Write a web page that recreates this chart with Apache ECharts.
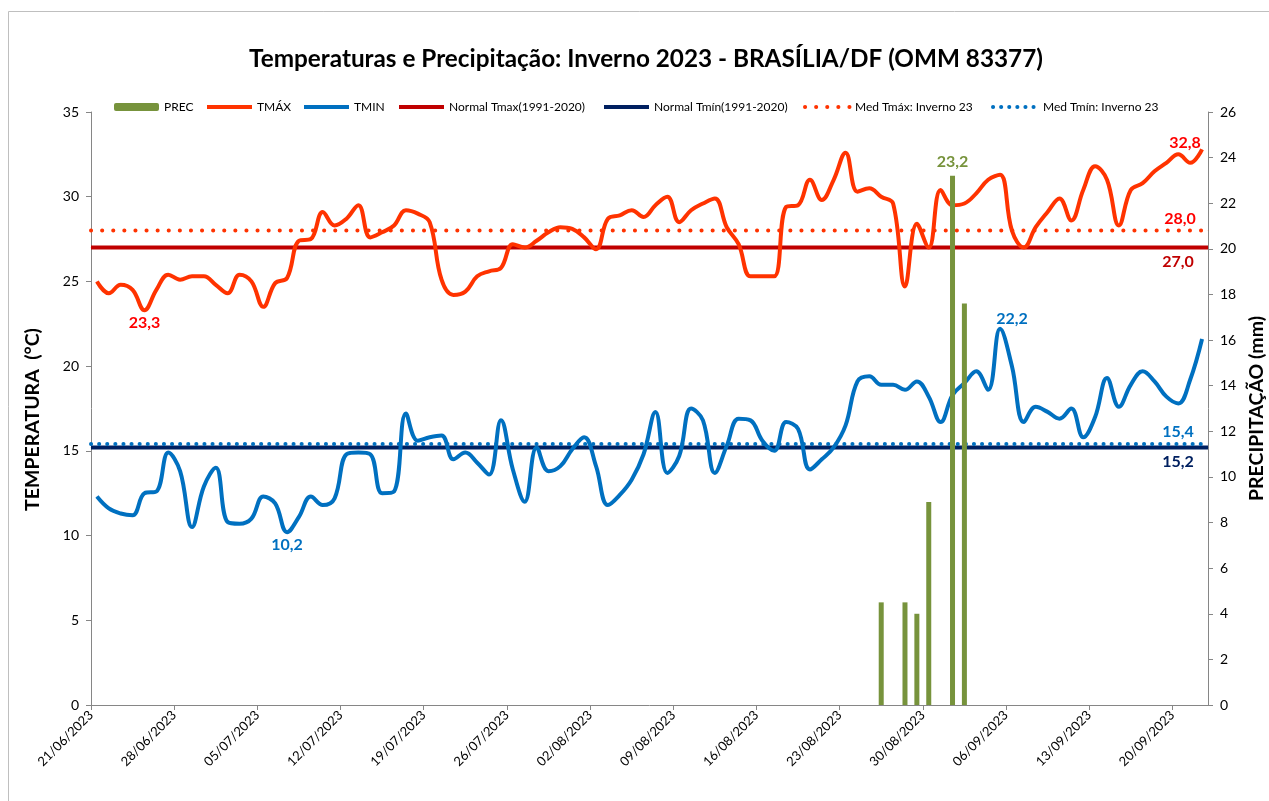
<!DOCTYPE html>
<html>
<head>
<meta charset="utf-8">
<script src="https://cdn.jsdelivr.net/npm/echarts@6/dist/echarts.min.js"></script>
<style>
  html, body { margin: 0; padding: 0; background: #fff; }
  #chart { width: 1269px; height: 801px; }
</style>
</head>
<body>
<div id="chart"></div>
<script>
// x axis tick labels, every 7 days from 21/06/2023
const tickLabels = [
  '21/06/2023', '28/06/2023', '05/07/2023', '12/07/2023', '19/07/2023',
  '26/07/2023', '02/08/2023', '09/08/2023', '16/08/2023', '23/08/2023',
  '30/08/2023', '06/09/2023', '13/09/2023', '20/09/2023'
]

// daily values, 21/06/2023 .. 22/09/2023
const tmax = [
  25.0, 24.3, 24.8, 24.5, 23.3, 24.5, 25.4, 25.1, 25.3, 25.3,
  24.8, 24.3, 25.4, 25.0, 23.5, 24.9, 25.2, 27.4, 27.5, 29.1,
  28.3, 28.7, 29.5, 27.6, 27.9, 28.3, 29.2, 29.0, 28.5, 25.1,
  24.2, 24.4, 25.3, 25.6, 25.8, 27.2, 27.0, 27.4, 27.9, 28.2,
  28.1, 27.6, 26.9, 28.7, 28.9, 29.2, 28.8, 29.5, 30.0, 28.5,
  29.2, 29.6, 29.9, 28.2, 27.2, 25.3, 25.3, 25.3, 29.4, 29.5,
  31.0, 29.8, 31.0, 32.6, 30.3, 30.5, 30.0, 29.6, 24.7, 28.4,
  27.0, 30.4, 29.5, 29.6, 30.2, 31.0, 31.3, 28.0, 27.0, 28.2,
  29.1, 29.9, 28.6, 30.4, 31.8, 31.0, 28.3, 30.4, 30.8, 31.5,
  32.0, 32.5, 32.0, 32.8
]
const tmin = [
  12.3, 11.6, 11.3, 11.2, 12.5, 12.6, 14.9, 13.8, 10.5, 12.9,
  14.0, 10.8, 10.7, 11.0, 12.3, 11.9, 10.2, 11.1, 12.3, 11.8,
  12.2, 14.8, 14.9, 14.8, 12.5, 12.6, 17.2, 15.6, 15.8, 15.9,
  14.5, 14.9, 14.3, 13.6, 16.8, 13.9, 12.0, 15.2, 13.8, 14.1,
  15.1, 15.8, 14.1, 11.8, 12.4, 13.3, 14.8, 17.3, 13.7, 14.7,
  17.5, 16.8, 13.7, 15.3, 16.9, 16.8, 15.6, 15.0, 16.7, 16.3,
  13.9, 14.5, 15.2, 16.5, 19.1, 19.4, 18.9, 18.9, 18.6, 19.1,
  18.2, 16.7, 18.3, 19.0, 19.7, 18.6, 22.2, 20.0, 16.7, 17.6,
  17.3, 16.9, 17.5, 15.8, 17.0, 19.3, 17.6, 18.9, 19.7, 19.1,
  18.2, 17.8, 19.2, 21.6
]
const prec = [
  0, 0, 0, 0, 0, 0, 0, 0, 0, 0,
  0, 0, 0, 0, 0, 0, 0, 0, 0, 0,
  0, 0, 0, 0, 0, 0, 0, 0, 0, 0,
  0, 0, 0, 0, 0, 0, 0, 0, 0, 0,
  0, 0, 0, 0, 0, 0, 0, 0, 0, 0,
  0, 0, 0, 0, 0, 0, 0, 0, 0, 0,
  0, 0, 0, 0, 0, 0, 4.5, 0, 4.5, 4.0,
  8.9, 0, 23.2, 17.6, 0, 0, 0, 0, 0, 0,
  0, 0, 0, 0, 0, 0, 0, 0, 0, 0,
  0, 0, 0, 0
]

const normalTmax = 27.0
const normalTmin = 15.2
const medTmax = 28.0
const medTmin = 15.4

const legendNames = ['PREC', 'TMÁX', 'TMIN', 'Normal Tmax(1991-2020)', 'Normal Tmín(1991-2020)',
  'Med Tmáx: Inverno 23', 'Med Tmín: Inverno 23']
const legendLeft = [114, 205, 302, 397, 602, 803, 991]

const nDays = tmax.length
const FONT = 'Lato'

const chart = echarts.init(document.getElementById('chart'), null, { renderer: 'canvas' })

const fmt = v => v.toFixed(1).replace('.', ',')
const lbl = (color, extra) => Object.assign({
  show: true, color, fontFamily: FONT, fontWeight: 'bold', fontSize: 16,
  formatter: p => fmt(p.value[1])
}, extra)

// daily points sit in the middle of each day
function points(arr, marks) {
  return arr.map((v, i) => {
    const item = { value: [i + 0.5, v] }
    if (marks && marks[i]) item.label = marks[i]
    return item
  })
}
const idxMin = arr => arr.indexOf(Math.min(...arr))
const idxMax = arr => arr.indexOf(Math.max(...arr))

// horizontal reference lines spanning the full axis
function refLine(v, label) {
  return [{ value: [0, v] }, { value: [nDays, v], label }]
}

const tmaxMarks = {}
tmaxMarks[idxMin(tmax)] = lbl('#FF0000', { position: 'bottom', distance: 4 })
tmaxMarks[idxMax(tmax)] = lbl('#FF0000', { position: 'left', distance: 1, offset: [0, -6] })
const tminMarks = {}
tminMarks[idxMin(tmin)] = lbl('#0070C0', { position: 'bottom', distance: 4 })
tminMarks[idxMax(tmin)] = lbl('#0070C0', { position: 'top', distance: 2, offset: [12, 0] })
const precMarks = {}
precMarks[idxMax(prec)] = lbl('#77933C', { position: 'top', distance: 6 })

const thin = '#868686'

// tiny symbols so that the point labels can be drawn
const lineBase = {
  type: 'line', symbol: 'circle', symbolSize: 0.5,
  showSymbol: true, showAllSymbol: true, z: 3
}

// one legend per entry so each sits where the original has it
const legends = legendNames.map((name, i) => ({
  left: legendLeft[i],
  top: 101,
  padding: 0,
  itemWidth: 45,
  itemHeight: 8,
  itemGap: 0,
  lineStyle: { width: 'inherit' },
  textStyle: { fontFamily: FONT, fontSize: 12, color: '#000' },
  data: [i === 0 ? { name } : { name, itemStyle: { opacity: 0 } }]
}))

const option = {
  animation: false,
  backgroundColor: '#fff',
  textStyle: { fontFamily: FONT },
  title: {
    text: 'Temperaturas e Precipitação: Inverno 2023 - BRASÍLIA/DF (OMM 83377)',
    left: 641,
    top: 42,
    textAlign: 'center',
    textStyle: { fontFamily: FONT, fontWeight: 'bold', fontSize: 24.3, color: '#000' }
  },
  graphic: [{
    type: 'rect',
    shape: { x: 8.5, y: 11.5, width: 1300, height: 900 },
    style: { fill: 'none', stroke: '#BFBFBF', lineWidth: 1 },
    silent: true
  }],
  legend: legends,
  grid: { left: 91, right: 61, top: 112, bottom: 96, outerBoundsMode: 'none' },
  xAxis: {
    type: 'value',
    min: 0,
    max: nDays,
    interval: 7,
    axisLine: { show: true, lineStyle: { color: thin, width: 1 } },
    axisTick: { show: true, length: 5, lineStyle: { color: thin } },
    splitLine: { show: false },
    axisLabel: {
      rotate: 45, fontSize: 13, color: '#000', margin: 8, fontFamily: FONT,
      showMaxLabel: false,
      formatter: v => (v % 7 === 0 && tickLabels[v / 7]) ? tickLabels[v / 7] : ''
    }
  },
  yAxis: [{
    type: 'value',
    min: 0, max: 35, interval: 5,
    name: 'TEMPERATURA  (°C)',
    nameLocation: 'middle',
    nameRotate: 90,
    nameGap: 48,
    nameTextStyle: {
      fontFamily: FONT, fontWeight: 'bold', fontSize: 19.5, color: '#000',
      padding: [0, 22, 0, 0]
    },
    axisLine: { show: true, lineStyle: { color: thin, width: 1 } },
    axisTick: { show: true, length: 5, lineStyle: { color: thin } },
    splitLine: { show: false },
    axisLabel: { fontSize: 14, color: '#000', margin: 12, fontFamily: FONT }
  }, {
    type: 'value',
    min: 0, max: 26, interval: 2,
    position: 'right',
    name: 'PRECIPITAÇÃO (mm)',
    nameLocation: 'middle',
    nameRotate: 90,
    nameGap: 35,
    nameTextStyle: { fontFamily: FONT, fontWeight: 'bold', fontSize: 19.5, color: '#000' },
    axisLine: { show: true, lineStyle: { color: thin, width: 1 } },
    axisTick: { show: true, length: 5, lineStyle: { color: thin } },
    splitLine: { show: false },
    axisLabel: { fontSize: 14, color: '#000', margin: 12, fontFamily: FONT }
  }],
  series: [
    {
      name: 'PREC', type: 'bar', yAxisIndex: 1, z: 10,
      barWidth: 5,
      itemStyle: { color: '#77933C' },
      data: points(prec, precMarks)
    },
    Object.assign({}, lineBase, {
      name: 'TMÁX', smooth: 0.4, z: 4,
      lineStyle: { color: '#FF3300', width: 4 }, itemStyle: { color: '#FF3300' },
      data: points(tmax, tmaxMarks)
    }),
    Object.assign({}, lineBase, {
      name: 'TMIN', smooth: 0.4, z: 4,
      lineStyle: { color: '#0070C0', width: 4 }, itemStyle: { color: '#0070C0' },
      data: points(tmin, tminMarks)
    }),
    Object.assign({}, lineBase, {
      name: 'Normal Tmax(1991-2020)',
      lineStyle: { color: '#C00000', width: 4 }, itemStyle: { color: '#C00000' },
      data: refLine(normalTmax, lbl('#C00000', { position: 'bottom', distance: 6, offset: [-30, 0] }))
    }),
    Object.assign({}, lineBase, {
      name: 'Normal Tmín(1991-2020)',
      lineStyle: { color: '#002060', width: 4 }, itemStyle: { color: '#002060' },
      data: refLine(normalTmin, lbl('#002060', { position: 'bottom', distance: 6, offset: [-30, 0] }))
    }),
    Object.assign({}, lineBase, {
      name: 'Med Tmáx: Inverno 23',
      lineStyle: { color: '#FF3300', width: 4, type: [0.1, 11], cap: 'round' },
      itemStyle: { color: '#FF3300' },
      data: refLine(medTmax, lbl('#FF0000', { position: 'top', distance: 4, offset: [-28, 0] }))
    }),
    Object.assign({}, lineBase, {
      name: 'Med Tmín: Inverno 23',
      lineStyle: { color: '#0070C0', width: 4, type: [0.1, 8], cap: 'round' },
      itemStyle: { color: '#0070C0' },
      data: refLine(medTmin, lbl('#0070C0', { position: 'top', distance: 4, offset: [-30, 0] }))
    })
  ]
}

chart.setOption(option)
</script>
</body>
</html>
